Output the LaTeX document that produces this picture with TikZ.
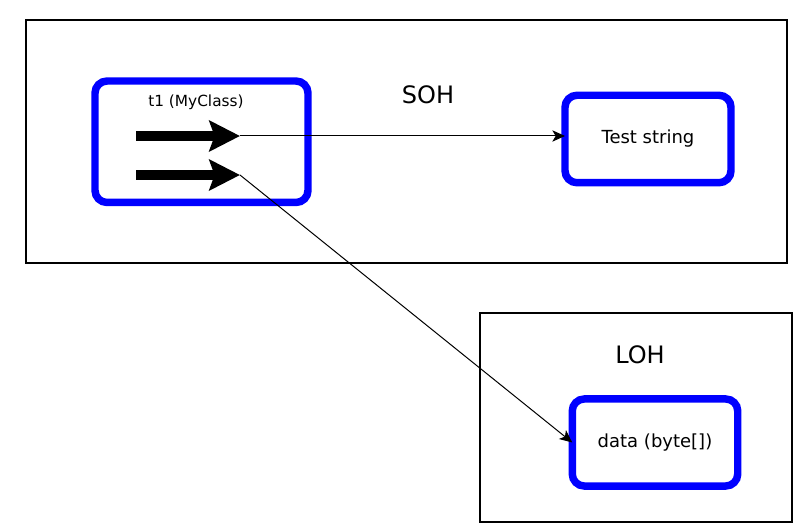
\documentclass[tikz,border=0pt]{standalone}
\usepackage{fontspec}
\setmainfont{DejaVu Sans}
\usetikzlibrary{arrows.meta,positioning}

\begin{document}
\begin{tikzpicture}[x=0.75pt, y=-0.75pt,
  heap/.style={draw, line width=1.1pt, inner sep=0pt},
  obj/.style={draw=blue, line width=5.6pt, rounded corners=9pt, outer sep=0pt, align=center, font=\fontsize{13.5}{15}\selectfont},
  lab/.style={font=\fontsize{18}{20}\selectfont},
  ptr/.style={-{Stealth[length=23pt, width=23pt, inset=4pt]}, line width=7.5pt},
  ref/.style={-{Stealth[length=9.5pt, width=8.5pt, inset=2.5pt]}, line width=0.75pt}
]
\useasboundingbox (0,0) rectangle (793,524);

% Heaps
\node[heap, minimum width=570.75pt, minimum height=182.25pt] (soh) at (406.5,141.5) {};
\node[lab] (sohlab) at (428,95) {SOH};
\node[heap, minimum width=234pt, minimum height=156.75pt] (loh) at (636,417.5) {};
\node[lab] (lohlab) at (640,355) {LOH};

% Objects
\node[obj, minimum width=159.75pt, minimum height=91.1pt] (t1) at (201.5,141.75) {};
\node[font=\fontsize{11.5}{13}\selectfont] (t1lab) at (196,102) {t1 (MyClass)};
\node[obj, minimum width=124.5pt, minimum height=65.6pt] (str) at (648,139) {Test string};
\node[obj, minimum width=124.1pt, minimum height=65.3pt] (data) at (655,442.5) {data (byte[])};

% Fields of t1
\coordinate (f1) at (136,136);
\coordinate (p1) at (240,136);
\coordinate (f2) at (136,175);
\coordinate (p2) at (240,175);
\draw[ptr] (f1) -- (p1);
\draw[ptr] (f2) -- (p2);

% References
\draw[ref] (p1) -- (p1 -| str.west);
\draw[ref] (p2) -- (data.west);

\end{tikzpicture}
\end{document}
